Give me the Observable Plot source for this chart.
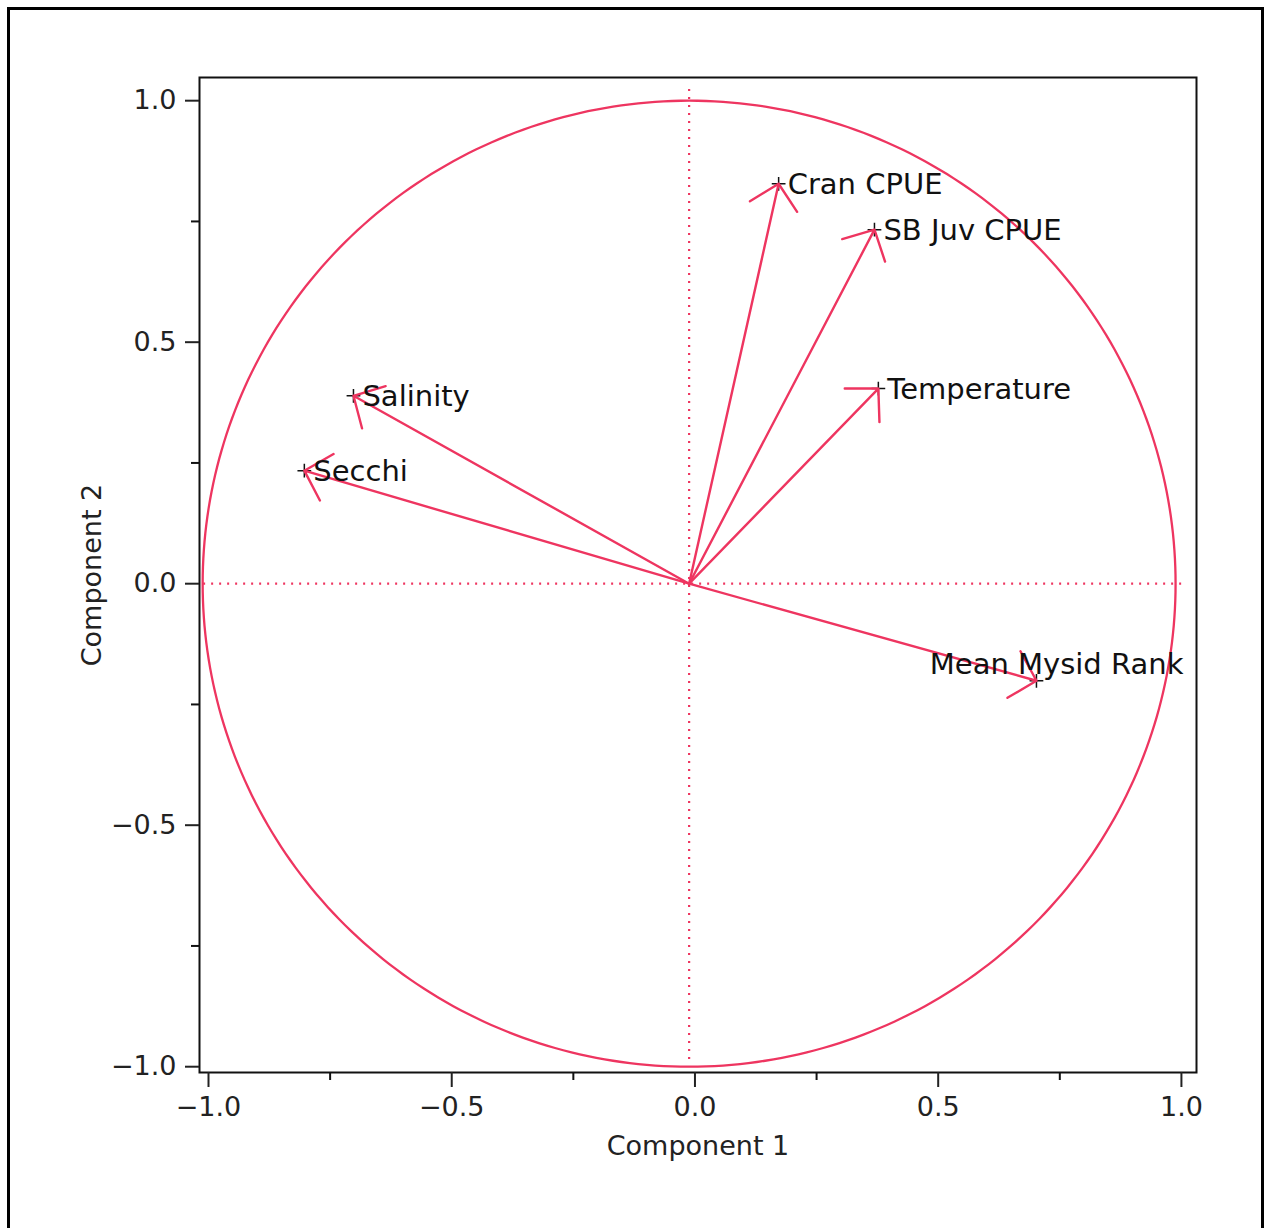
<!DOCTYPE html>
<html><head><meta charset="utf-8">
<script src="https://cdn.jsdelivr.net/npm/d3@7"></script>
<script src="https://cdn.jsdelivr.net/npm/@observablehq/plot@0.6"></script>
<style>
html,body{margin:0;padding:0;background:#fff;overflow:hidden;width:1266px;height:1228px;}
#wrap{position:relative;width:1266px;height:1228px;}
#border{position:absolute;left:7px;top:7px;width:1257px;height:1240px;border:3px solid #000;box-sizing:border-box;pointer-events:none;}
</style></head><body><div id="wrap"><div id="chart"></div><div id="border"></div></div>
<script>
// Loadings (Component 1, Component 2)
const variables = ["Cran CPUE", "SB Juv CPUE", "Temperature", "Salinity", "Secchi", "Mean Mysid Rank"];
const component1 = [0.172, 0.369, 0.377, -0.702, -0.803, 0.702];
const component2 = [0.828, 0.733, 0.404, 0.389, 0.234, -0.201];
// Origin of the vectors / centre of the unit circle as drawn
const originX = [-0.012];
const originY = [0];
const xTicks = [-1, -0.5, 0, 0.5, 1];
const yTicks = [-1, -0.5, 0, 0.5, 1];
const minorTicks = [-0.75, -0.25, 0.25, 0.75];
const xRefExtent = [-1.01, 1.01];
const yRefExtent = [-0.985, 1.035];

const red = "#ee3560";
const loadings = variables.map((v, i) => ({name: v, x: component1[i], y: component2[i]}));
const circle = d3.range(0, 361, 1).map(a => ({
  x: originX[0] + Math.cos(a * Math.PI / 180),
  y: originY[0] + Math.sin(a * Math.PI / 180)
}));

const chart = Plot.plot({
  width: 1266,
  height: 1228,
  marginLeft: 199,
  marginRight: 70,
  marginTop: 77,
  marginBottom: 156,
  style: {fontFamily: "DejaVu Sans", color: "#111", background: "transparent"},
  x: {domain: [-1.0185, 1.031]},
  y: {domain: [-1.012, 1.048]},
  marks: [
    Plot.ruleX(originX, {x: d => d, y1: () => yRefExtent[0], y2: () => yRefExtent[1], stroke: red, strokeWidth: 2.2, strokeDasharray: "2,6"}),
    Plot.ruleY(originY, {y: d => d, x1: () => xRefExtent[0], x2: () => xRefExtent[1], stroke: red, strokeWidth: 2.2, strokeDasharray: "2,6"}),
    Plot.line(circle, {x: "x", y: "y", stroke: red, strokeWidth: 2.3}),
    Plot.dot(loadings, {x: "x", y: "y", symbol: "plus", r: 4.5, stroke: "#111", strokeWidth: 1.5}),
    Plot.arrow(loadings, {x1: () => originX[0], y1: () => originY[0], x2: "x", y2: "y", stroke: red, strokeWidth: 2.4, headLength: 21, headAngle: 92}),
    Plot.text(loadings.filter(d => d.name !== "Mean Mysid Rank"), {x: "x", y: "y", text: "name", textAnchor: "start", dx: 9, dy: 1, fontSize: 29, fill: "#111"}),
    Plot.text(loadings.filter(d => d.name === "Mean Mysid Rank"), {x: "x", y: "y", text: "name", textAnchor: "end", dx: 147, dy: -16, fontSize: 29, fill: "#111"}),
    Plot.frame({stroke: "#111", strokeWidth: 2}),
    Plot.axisX(xTicks, {tickSize: 15, tickPadding: 9, fontSize: 27, strokeWidth: 2, tickFormat: d3.format(".1f"), label: "Component 1", labelAnchor: "center", labelArrow: "none", labelOffset: 82, color: "#222"}),
    Plot.axisX(minorTicks, {tickSize: 8, strokeWidth: 2, tickFormat: () => "", label: null}),
    Plot.axisY(yTicks, {tickSize: 14, tickPadding: 9, fontSize: 27, strokeWidth: 2, tickFormat: d3.format(".1f"), label: "Component 2", labelAnchor: "center", labelArrow: "none", labelOffset: 118, color: "#222"}),
    Plot.axisY(minorTicks, {tickSize: 8, strokeWidth: 2, tickFormat: () => "", label: null})
  ]
});
document.getElementById("chart").appendChild(chart);
</script>
</body></html>
